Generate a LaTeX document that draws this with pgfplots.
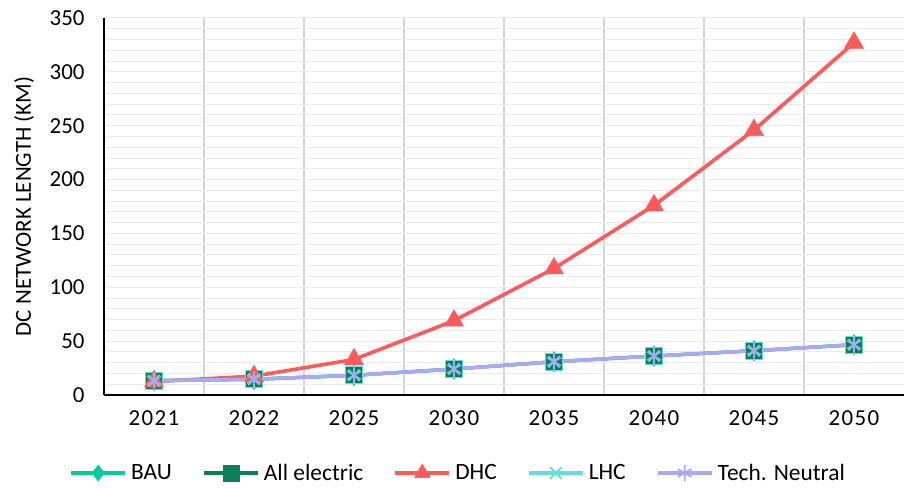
\documentclass[border=0pt]{standalone}
\usepackage{fontspec}
\setmainfont{Carlito}
\usepackage{pgfplots}
\pgfplotsset{compat=1.18}

\definecolor{cBAU}{HTML}{00CC99}
\definecolor{cAE}{HTML}{0A7F5A}
\definecolor{cDHC}{HTML}{FF5A5A}
\definecolor{cLHC}{HTML}{66DDDD}
\definecolor{cTN}{HTML}{A9A9F7}
\definecolor{hgrid}{HTML}{EBEBEB}
\definecolor{vgrid}{HTML}{D4D4D4}

\newcommand{\chartfont}{\fontsize{23}{27}\selectfont}
\newcommand{\legendfont}{\fontsize{23.5}{27}\selectfont}

\begin{document}
\begin{tikzpicture}
\begin{axis}[
  scale only axis,
  width=800bp, height=377bp,
  at={(104bp,93bp)}, anchor=south west,
  xmin=-0.5, xmax=7.5,
  ymin=0, ymax=350,
  xtick={0,...,7},
  xticklabels={2021,2022,2025,2030,2035,2040,2045,2050},
  ytick={0,50,...,350},
  minor y tick num=4,
  minor xtick={0.5,1.5,...,6.5},
  ymajorgrids, yminorgrids, xminorgrids,
  major grid style={draw=hgrid, line width=1bp},
  minor y grid style={draw=hgrid, line width=1bp},
  minor x grid style={draw=vgrid, line width=1.5bp},
  axis x line*=bottom, axis y line*=left,
  x axis line style={black, line width=1.6bp, -},
  y axis line style={black, line width=1.2bp, -},
  major tick length=0pt, minor tick length=0pt,
  tick style={draw=none},
  /pgf/number format/assume math mode=true,
  ticklabel style={font=\chartfont},
  yticklabel style={xshift=-16bp},
  xticklabel style={yshift=-12bp, font=\chartfont\addfontfeature{LetterSpace=6}},
  ylabel={DC NETWORK LENGTH (KM)},
  every axis y label/.style={at={(axis description cs:-0.1,0.5)}, rotate=90,
    anchor=center, font=\chartfont},
  legend columns=5,
  legend style={at={(axis description cs:0.442,-0.207)}, anchor=center,
    draw=none, fill=none, font=\legendfont,
    nodes={inner sep=1bp},
    /tikz/every even column/.append style={column sep=29bp},
    /tikz/every odd column/.append style={column sep=3bp}},
  legend image code/.code={%
    \draw[mark repeat=2,mark phase=2,#1]
      plot coordinates {(0bp,0bp) (27bp,0bp) (54bp,0bp)};},
  clip=false,
]
% Business as usual
\addplot[forget plot, color=cBAU, line width=3.2bp, mark=diamond*, mark size=8bp,
  mark options={solid, fill=cBAU, draw=cBAU}]
  coordinates {(0,13.3) (1,14.6) (2,18.3) (3,24.1) (4,30.9) (5,36.2) (6,41.1) (7,46.7)};
% All electric
\addplot[forget plot, color=cAE, line width=3.2bp, mark=square*, mark size=8.5bp,
  mark options={solid, fill=cAE, draw=cLHC, line width=0.6bp}]
  coordinates {(0,13.3) (1,14.6) (2,18.3) (3,24.1) (4,30.9) (5,36.2) (6,41.1) (7,46.7)};
% District heating and cooling
\addplot[forget plot, color=cDHC, line width=3.6bp, mark=triangle*, mark size=11bp,
  mark options={solid, fill=cDHC, draw=cDHC, line width=0.5bp}]
  coordinates {(0,12.5) (1,17.5) (2,33) (3,69) (4,117.5) (5,176) (6,246) (7,327)};
% Low-temperature heating and cooling
\addplot[forget plot, color=cLHC, line width=3.2bp, mark=x, mark size=8bp,
  mark options={solid, draw=cLHC, line width=1.6bp}]
  coordinates {(0,13.3) (1,14.6) (2,18.3) (3,24.1) (4,30.9) (5,36.2) (6,41.1) (7,46.7)};
% Technology neutral
\addplot[forget plot, color=cTN, line width=3.4bp, mark=asterisk, mark size=8bp,
  mark options={solid, draw=cTN, line width=1.6bp}]
  coordinates {(0,13.3) (1,14.6) (2,18.3) (3,24.1) (4,30.9) (5,36.2) (6,41.1) (7,46.7)};

% legend keys
\addlegendimage{color=cBAU, line width=4bp, mark=diamond*, mark size=8bp,
  mark options={solid, fill=cBAU, draw=cBAU, line width=0.5bp}}
\addlegendentry{BAU}
\addlegendimage{color=cAE, line width=4bp, mark=square*, mark size=8bp,
  mark options={solid, fill=cAE, draw=cAE, line width=0.5bp}}
\addlegendentry{All electric}
\addlegendimage{color=cDHC, line width=4bp, mark=triangle*, mark size=9bp,
  mark options={solid, fill=cDHC, draw=cDHC, line width=0.5bp}}
\addlegendentry{DHC}
\addlegendimage{color=cLHC, line width=4bp, mark=x, mark size=8bp,
  mark options={solid, draw=cLHC, line width=1.8bp}}
\addlegendentry{LHC}
\addlegendimage{color=cTN, line width=4bp, mark=asterisk, mark size=8bp,
  mark options={solid, draw=cTN, line width=1.8bp}}
\addlegendentry{Tech. Neutral}
\end{axis}
\pgfresetboundingbox
\useasboundingbox (0,0) rectangle (904bp,488bp);
\end{tikzpicture}
\end{document}
